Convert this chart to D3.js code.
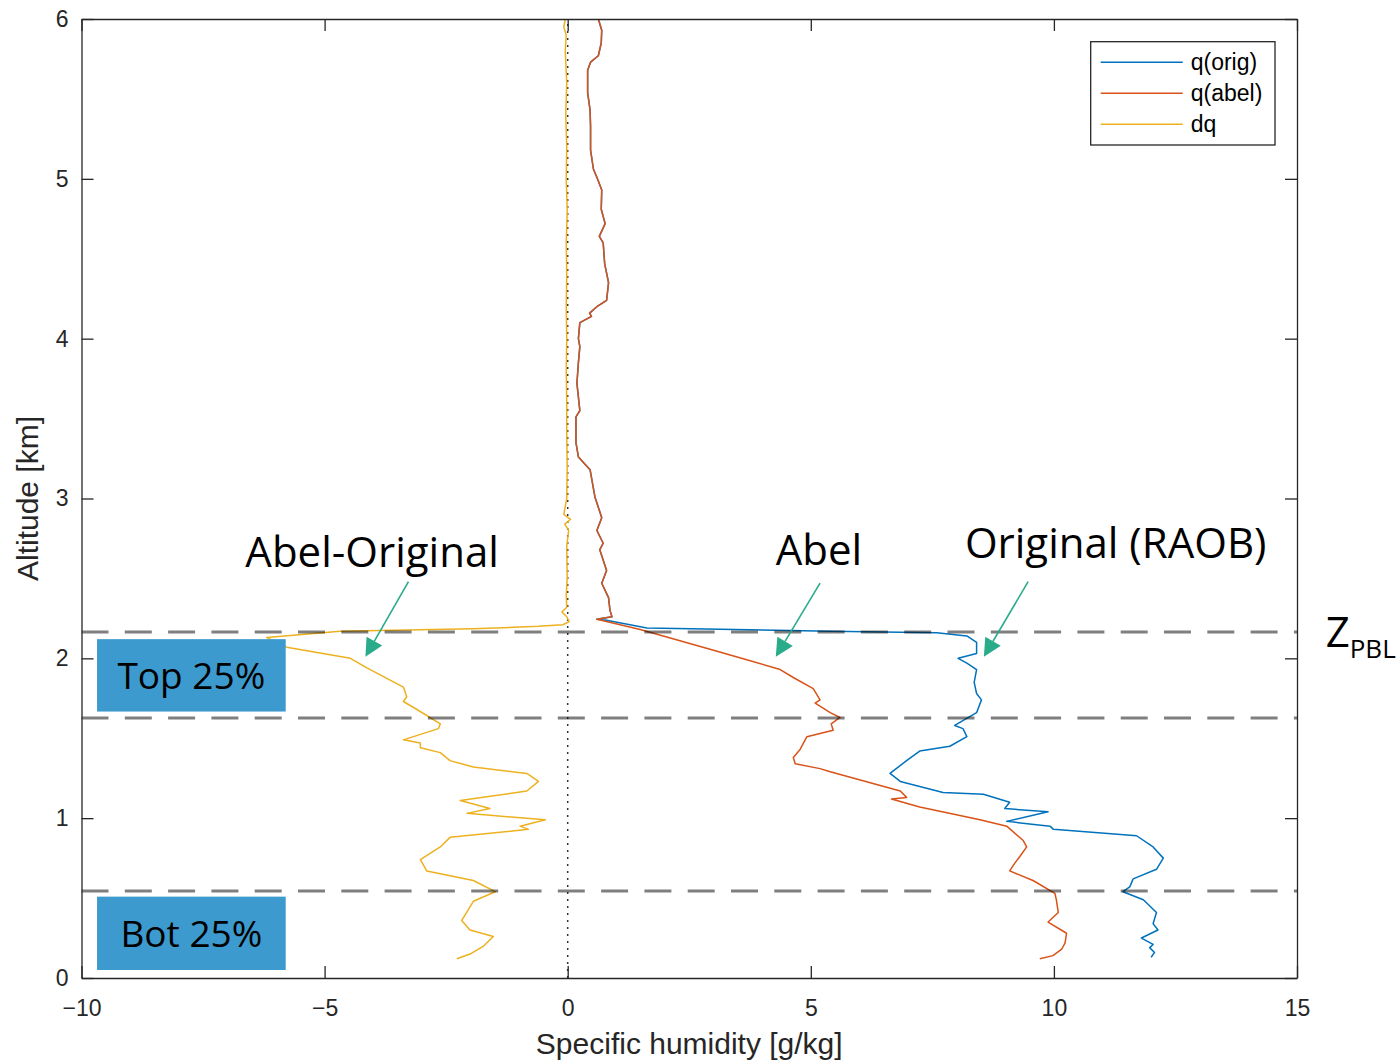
<!DOCTYPE html>
<html>
<head>
<meta charset="utf-8">
<script src="https://cdn.jsdelivr.net/npm/d3@7"></script>
<style>
    body { margin: 0; background: #fff; }
    .axis text { font-family: "Liberation Sans", Arial, sans-serif; font-size: 23px; fill: #262626; }
    .axis path, .axis line { stroke: #262626; stroke-width: 1.3; }
    .note { font-family: "Open Sans", "Noto Sans", sans-serif; fill: #000; }
</style>
</head>
<body>
<div id="chart"></div>
<script>
// ---- data: [q g/kg, altitude km] ----
// part of the profile above the PBL where q(orig) and q(abel) coincide
var qUpper = [[0.63,6.0],[0.70,5.93],[0.69,5.85],[0.63,5.77],[0.47,5.73],[0.41,5.68],[0.41,5.54],[0.46,5.43],
    [0.47,5.33],[0.47,5.18],[0.53,5.06],[0.60,5.01],[0.70,4.93],[0.69,4.81],[0.77,4.72],[0.65,4.64],[0.73,4.60],
    [0.76,4.47],[0.84,4.35],[0.80,4.24],[0.60,4.20],[0.45,4.16],[0.49,4.14],[0.25,4.10],[0.22,4.00],[0.25,3.95],
    [0.22,3.85],[0.19,3.72],[0.25,3.55],[0.17,3.51],[0.17,3.35],[0.22,3.26],[0.46,3.18],[0.56,3.01],[0.70,2.88],
    [0.60,2.80],[0.73,2.72],[0.66,2.68],[0.80,2.55],[0.70,2.47],[0.84,2.38],[0.87,2.30],[0.91,2.26],[0.60,2.245]];
var qOrigLower = [[0.77,2.24],[1.63,2.19],[5.40,2.17],[7.59,2.16],[8.21,2.14],[8.41,2.10],[8.41,2.03],[8.03,2.00],
    [8.21,1.97],[8.41,1.93],[8.36,1.85],[8.41,1.78],[8.51,1.74],[8.41,1.66],[7.96,1.58],[8.13,1.56],[8.21,1.51],
    [7.86,1.45],[7.24,1.42],[6.97,1.36],[6.63,1.28],[6.84,1.23],[7.72,1.16],[8.55,1.15],[9.09,1.10],[8.99,1.06],
    [9.88,1.04],[9.03,0.98],[9.92,0.95],[9.99,0.93],[11.70,0.89],[12.04,0.82],[12.25,0.75],[12.11,0.68],
    [11.63,0.62],[11.56,0.57],[11.42,0.54],[11.84,0.49],[12.11,0.41],[12.04,0.34],[12.14,0.30],[11.80,0.25],
    [12.04,0.21],[11.97,0.19],[12.07,0.16],[12.00,0.13]];
var qAbelLower = [[1.49,2.18],[2.20,2.12],[3.00,2.05],[3.70,1.99],[4.37,1.93],[4.64,1.88],[5.05,1.81],[5.19,1.74],
    [5.09,1.72],[5.40,1.66],[5.60,1.63],[5.42,1.59],[5.46,1.55],[5.19,1.53],[4.92,1.51],[4.78,1.43],[4.64,1.38],
    [4.68,1.34],[5.19,1.31],[5.40,1.29],[6.84,1.17],[6.97,1.13],[6.66,1.12],[7.24,1.07],[8.48,0.99],[9.03,0.95],
    [9.37,0.86],[9.44,0.82],[9.30,0.76],[9.20,0.72],[9.09,0.67],[9.57,0.61],[10.02,0.53],[10.05,0.49],[10.09,0.41],
    [9.88,0.35],[10.26,0.28],[10.23,0.22],[10.16,0.18],[9.98,0.14],[9.71,0.12]];
var dq = [[-0.05,6.0],[-0.08,5.95],[-0.03,5.9],[-0.05,5.8],[-0.02,5.6],[-0.04,5.4],[-0.02,5.2],[-0.03,5.0],
    [-0.01,4.8],[-0.03,4.6],[-0.02,4.4],[-0.03,4.2],[-0.02,4.0],[-0.03,3.8],[-0.02,3.6],[-0.02,3.4],[-0.01,3.2],
    [-0.02,3.0],[-0.08,2.90],[0.06,2.87],[-0.06,2.84],[0.02,2.80],[-0.02,2.7],[-0.01,2.5],[-0.03,2.4],[-0.02,2.32],
    [-0.12,2.29],[-0.02,2.26],[0.03,2.23],[-0.10,2.21],[-0.60,2.20],[-1.94,2.185],[-4.68,2.17],[-6.19,2.13],
    [-5.78,2.07],[-4.47,2.00],[-4.13,1.94],[-3.38,1.82],[-3.31,1.76],[-3.38,1.73],[-3.10,1.68],[-2.62,1.59],
    [-2.66,1.56],[-3.38,1.49],[-3.03,1.47],[-3.03,1.44],[-2.62,1.41],[-2.42,1.36],[-1.94,1.32],[-0.84,1.28],
    [-0.60,1.23],[-0.84,1.17],[-2.21,1.11],[-1.60,1.06],[-2.07,1.03],[-0.46,0.99],[-0.98,0.95],[-0.81,0.93],
    [-2.42,0.88],[-2.62,0.82],[-3.03,0.74],[-2.90,0.67],[-1.94,0.61],[-1.49,0.54],[-1.94,0.48],[-2.04,0.43],
    [-2.18,0.36],[-2.01,0.30],[-1.53,0.26],[-1.73,0.20],[-2.01,0.15],[-2.28,0.12]];
var qOrig = qUpper.concat(qOrigLower);
var qAbel = qUpper.concat(qAbelLower);

var seriesNames = ["q(orig)", "q(abel)", "dq"];
var xTicks = [-10, -5, 0, 5, 10, 15];
var yTicks = [0, 1, 2, 3, 4, 5, 6];
var pblLevels = [2.165, 1.627, 0.545];   // dashed lines: PBL top, 25% below, 25% above ground

// annotations (in data units)
var noteTexts = ["Abel-Original", "Abel", "Original (RAOB)"];
var noteX = [-6.63, 4.28, 8.17];
var noteAlt = [2.57, 2.585, 2.63];
var arrowFrom = [[-3.275, 2.48], [5.19, 2.47], [9.47, 2.48]];
var arrowTo = [[-4.16, 2.01], [4.28, 2.01], [8.56, 2.01]];
var boxTexts = ["Top 25%", "Bot 25%"];
var boxAlt = [[1.667, 2.12], [0.05, 0.509]];

// ---- canvas ----
var width = 1397, height = 1063;
var plot = {left: 81.5, right: 1297, top: 19, bottom: 978};
var colors = ["#0072BD", "#D95319", "#EDB120"];

var svg = d3.select("#chart").append("svg")
    .attr("width", width)
    .attr("height", height);

var xScale = d3.scaleLinear().domain([-10, 15]).range([plot.left, plot.right]);
var yScale = d3.scaleLinear().domain([0, 6]).range([plot.bottom, plot.top]);

var line = d3.line()
    .x(function (d) { return xScale(d[0]); })
    .y(function (d) { return yScale(d[1]); });

// zero line, dotted
svg.append("line")
    .attr("x1", xScale(0)).attr("x2", xScale(0))
    .attr("y1", yScale(0)).attr("y2", yScale(6))
    .attr("stroke", "#333").attr("stroke-width", 1.5)
    .attr("stroke-dasharray", "2,5");

// curves
svg.append("g").selectAll("path")
    .data([qOrig, qAbel, dq])
    .enter().append("path")
    .attr("d", line)
    .attr("fill", "none")
    .attr("stroke", function (d, i) { return colors[i]; })
    .attr("stroke-width", 1.5)
    .attr("stroke-linejoin", "round");

// PBL dashed lines
svg.append("g").selectAll("line")
    .data(pblLevels)
    .enter().append("line")
    .attr("x1", xScale(-10)).attr("x2", xScale(15))
    .attr("y1", function (d) { return yScale(d); })
    .attr("y2", function (d) { return yScale(d); })
    .attr("stroke", "#000").attr("stroke-opacity", 0.5)
    .attr("stroke-width", 3)
    .attr("stroke-dasharray", "27,16.3");

// Top / Bot boxes
var boxes = svg.append("g").selectAll("g")
    .data(boxTexts)
    .enter().append("g");
boxes.append("rect")
    .attr("x", xScale(-9.68))
    .attr("width", xScale(-5.80) - xScale(-9.68))
    .attr("y", function (d, i) { return yScale(boxAlt[i][1]); })
    .attr("height", function (d, i) { return yScale(boxAlt[i][0]) - yScale(boxAlt[i][1]); })
    .attr("fill", "#3d9ace");
boxes.append("text")
    .attr("class", "note")
    .attr("x", xScale(-7.74))
    .attr("y", function (d, i) { return (yScale(boxAlt[i][0]) + yScale(boxAlt[i][1])) / 2; })
    .attr("dy", "0.36em")
    .attr("text-anchor", "middle")
    .style("font-size", "37px")
    .text(function (d) { return d; });

// annotation texts
svg.append("g").selectAll("text")
    .data(noteTexts)
    .enter().append("text")
    .attr("class", "note")
    .attr("x", function (d, i) { return xScale(noteX[i]); })
    .attr("y", function (d, i) { return yScale(noteAlt[i]); })
    .style("font-size", "42px")
    .text(function (d) { return d; });

// arrows
var arrowColor = "#2aab8a";
arrowFrom.forEach(function (p, i) {
    var x0 = xScale(p[0]), y0 = yScale(p[1]);
    var x1 = xScale(arrowTo[i][0]), y1 = yScale(arrowTo[i][1]);
    var dx = x1 - x0, dy = y1 - y0, len = Math.sqrt(dx * dx + dy * dy);
    var ux = dx / len, uy = dy / len;
    var bx = x1 - ux * 18, by = y1 - uy * 18;
    svg.append("line")
        .attr("x1", x0).attr("y1", y0).attr("x2", bx).attr("y2", by)
        .attr("stroke", arrowColor).attr("stroke-width", 1.6);
    svg.append("path")
        .attr("d", "M" + x1 + "," + y1 + "L" + (bx - uy * 9) + "," + (by + ux * 9) + "L" + (bx + uy * 9) + "," + (by - ux * 9) + "Z")
        .attr("fill", arrowColor);
});

// Z_PBL
var zText = svg.append("text")
    .attr("class", "note")
    .attr("x", xScale(15.59))
    .attr("y", yScale(2.074))
    .style("font-size", "42px")
    .text("Z");
zText.append("tspan")
    .attr("dy", 11)
    .style("font-size", "26px")
    .text("PBL");

// axes (MATLAB style: ticks inward, box on)
svg.append("g").attr("class", "axis")
    .attr("transform", "translate(0," + plot.bottom + ")")
    .call(d3.axisBottom(xScale).tickValues(xTicks).tickSize(-12).tickSizeOuter(0).tickPadding(22).tickFormat(d3.format("d")));
svg.append("g").attr("class", "axis")
    .attr("transform", "translate(" + plot.left + ",0)")
    .call(d3.axisLeft(yScale).tickValues(yTicks).tickSize(-12).tickSizeOuter(0).tickPadding(13).tickFormat(d3.format("d")));
svg.append("g").attr("class", "axis")
    .attr("transform", "translate(0," + plot.top + ")")
    .call(d3.axisTop(xScale).tickValues(xTicks).tickSize(-12).tickSizeOuter(0).tickFormat(""));
svg.append("g").attr("class", "axis")
    .attr("transform", "translate(" + plot.right + ",0)")
    .call(d3.axisRight(yScale).tickValues(yTicks).tickSize(-12).tickSizeOuter(0).tickFormat(""));

// axis labels
svg.append("text")
    .attr("x", (plot.left + plot.right) / 2)
    .attr("y", 1054)
    .attr("text-anchor", "middle")
    .style("font-family", "'Liberation Sans', Arial, sans-serif")
    .style("font-size", "30px")
    .attr("fill", "#262626")
    .text("Specific humidity [g/kg]");
svg.append("text")
    .attr("transform", "translate(38," + ((plot.top + plot.bottom) / 2) + ") rotate(-90)")
    .attr("text-anchor", "middle")
    .style("font-family", "'Liberation Sans', Arial, sans-serif")
    .style("font-size", "30px")
    .attr("fill", "#262626")
    .text("Altitude [km]");

// legend
var legend = svg.append("g").attr("transform", "translate(1090.7,41.7)");
legend.append("rect")
    .attr("width", 184.3).attr("height", 103.3)
    .attr("fill", "#fff").attr("stroke", "#262626").attr("stroke-width", 1.3);
var items = legend.selectAll("g.item")
    .data(seriesNames)
    .enter().append("g").attr("class", "item")
    .attr("transform", function (d, i) { return "translate(0," + (20.6 + i * 31) + ")"; });
items.append("line")
    .attr("x1", 10).attr("x2", 92)
    .attr("stroke", function (d, i) { return colors[i]; })
    .attr("stroke-width", 1.5);
items.append("text")
    .attr("x", 100)
    .attr("dy", "0.35em")
    .style("font-family", "'Liberation Sans', Arial, sans-serif")
    .style("font-size", "23px")
    .attr("fill", "#000")
    .text(function (d) { return d; });
</script>
</body>
</html>
